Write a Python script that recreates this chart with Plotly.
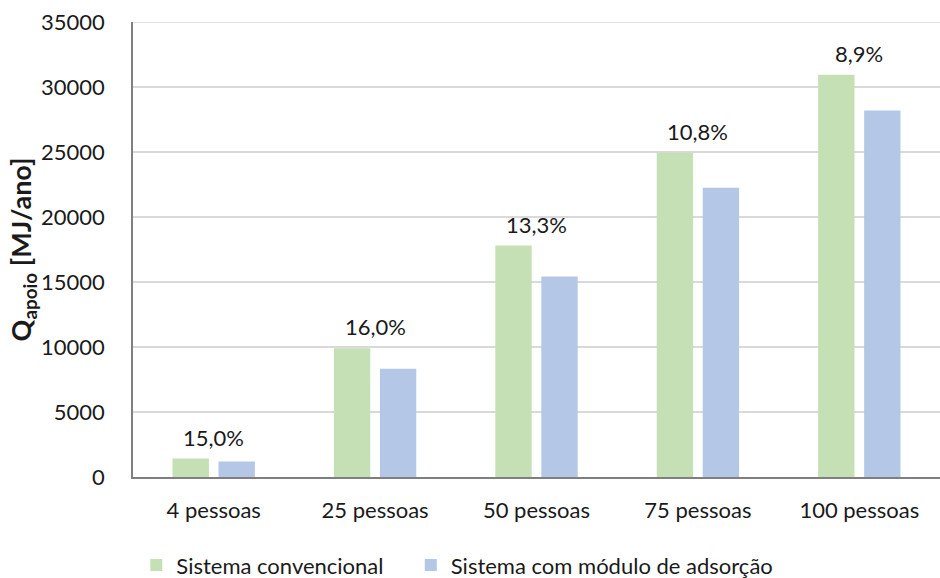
import plotly.graph_objects as go

categorias = ["4 pessoas", "25 pessoas", "50 pessoas", "75 pessoas", "100 pessoas"]
convencional = [1420, 9900, 17800, 24950, 30950]
adsorcao = [1200, 8330, 15420, 22250, 28200]
reducao = ["15,0%", "16,0%", "13,3%", "10,8%", "8,9%"]

FONT = "Lato"
TXT = "#1a1a1a"
FS = 22

fig = go.Figure()
fig.add_trace(go.Bar(x=categorias, y=convencional, name="Sistema convencional",
                     marker=dict(color="#c5e0b4", line=dict(width=0)), legend="legend"))
fig.add_trace(go.Bar(x=categorias, y=adsorcao, name="Sistema com módulo de adsorção",
                     marker=dict(color="#b4c7e7", line=dict(width=0)), legend="legend2"))

for c, v, t in zip(categorias, convencional, reducao):
    fig.add_annotation(x=c, y=v, text=t, showarrow=False, yanchor="bottom",
                       yshift=6, font=dict(family=FONT, size=FS, color=TXT))

legend_style = dict(orientation="h", xref="container", y=0.022, yref="container",
                    yanchor="middle", xanchor="left", itemwidth=30,
                    font=dict(family=FONT, size=FS, color=TXT))

fig.update_layout(
    width=940, height=578,
    margin=dict(l=133, r=0, t=22, b=101),
    paper_bgcolor="white", plot_bgcolor="white",
    barmode="group", bargap=0.43, bargroupgap=0.21,
    font=dict(family=FONT, size=FS, color=TXT),
    showlegend=True,
    legend=dict(x=0.145, **legend_style),
    legend2=dict(x=0.437, **legend_style),
    yaxis=dict(range=[0, 35000], dtick=5000, tickformat="d", showgrid=True,
               gridcolor="#d9d9d9", gridwidth=1.5, zeroline=False, showline=True,
               linecolor="#7f7f7f", linewidth=1.5, ticks="", ticklabelstandoff=22,
               tickfont=dict(family=FONT, size=FS, color=TXT),
               title=dict(text="<b>Q<sub>apoio</sub> [MJ/ano]</b>", standoff=1,
                          font=dict(family=FONT, size=27, color=TXT))),
    xaxis=dict(showline=True, linecolor="#7f7f7f", linewidth=1.5, ticks="",
               ticklabelstandoff=13, tickfont=dict(family=FONT, size=FS, color=TXT)),
)
fig.add_shape(type="line", xref="paper", yref="y", x0=0, x1=1, y0=35000, y1=35000,
              line=dict(color="#d9d9d9", width=1.5), layer="below")

fig.write_html("out.html")
